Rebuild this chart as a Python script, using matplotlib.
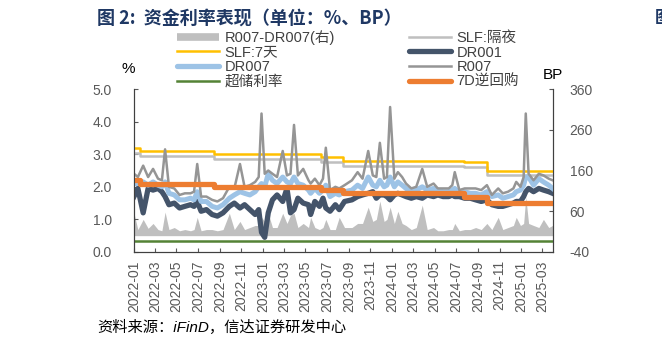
import pandas as pd
import numpy as np
import matplotlib
matplotlib.use("Agg")
import matplotlib.pyplot as plt
import matplotlib.dates as mdates
from matplotlib.lines import Line2D


# -----------------------------
# 1 Data
# -----------------------------

dates = [
    "2022-01-01", "2022-01-12", "2022-01-27", "2022-02-10", "2022-02-24", "2022-03-10",
    "2022-03-21", "2022-03-30", "2022-04-10", "2022-04-25", "2022-05-10", "2022-05-25",
    "2022-06-10", "2022-06-20", "2022-06-29", "2022-07-10", "2022-07-25", "2022-08-10",
    "2022-08-25", "2022-09-10", "2022-09-28", "2022-10-12", "2022-10-28", "2022-11-10",
    "2022-11-25", "2022-12-10", "2022-12-20", "2022-12-28",
    "2023-01-06", "2023-01-16", "2023-01-28", "2023-02-10", "2023-02-26", "2023-03-10",
    "2023-03-20", "2023-03-30", "2023-04-10", "2023-04-25", "2023-05-10", "2023-05-16",
    "2023-05-28", "2023-06-10", "2023-06-20", "2023-06-28", "2023-07-10", "2023-07-25",
    "2023-08-05", "2023-08-20", "2023-09-10", "2023-09-26", "2023-10-10", "2023-10-26",
    "2023-11-08", "2023-11-18", "2023-11-28", "2023-12-10", "2023-12-18", "2023-12-27",
    "2024-01-08", "2024-01-18", "2024-01-30", "2024-02-10", "2024-02-25", "2024-03-10",
    "2024-03-27", "2024-04-10", "2024-04-28", "2024-05-10", "2024-05-25", "2024-06-10",
    "2024-06-20", "2024-06-27", "2024-07-10", "2024-07-25", "2024-08-10", "2024-08-25",
    "2024-09-10", "2024-09-26", "2024-10-10", "2024-10-28", "2024-11-10", "2024-11-25",
    "2024-12-10", "2024-12-18", "2024-12-30",
    "2025-01-08", "2025-01-14", "2025-01-22", "2025-02-05", "2025-02-20", "2025-03-05",
    "2025-03-20", "2025-03-31",
]

dr001 = [
    1.70, 1.95, 1.20, 1.95, 1.90, 1.95, 1.85, 1.70, 1.45, 1.50, 1.35, 1.40,
    1.45, 1.40, 1.55, 1.25, 1.30, 1.15, 1.10, 1.20, 1.40, 1.50, 1.35, 1.45,
    1.30, 1.15, 1.30, 0.60,
    0.45, 1.20, 1.60, 1.75, 1.55, 1.95, 1.20, 1.30, 1.65, 1.50, 1.45, 1.15,
    1.55, 1.40, 1.65, 1.35, 1.25, 1.45, 1.30, 1.55, 1.60, 1.70, 1.75, 1.80,
    1.85, 1.65, 1.75, 1.75, 1.70, 1.60,
    1.75, 1.80, 1.75, 1.70, 1.65, 1.70, 1.65, 1.75, 1.70, 1.75, 1.70, 1.70,
    1.75, 1.70, 1.70, 1.65, 1.65, 1.60, 1.55, 1.60, 1.45, 1.40, 1.40, 1.45,
    1.50, 1.55, 1.55,
    1.70, 1.85, 1.95, 1.85, 1.95, 1.90, 1.85, 1.80,
]

dr007 = [
    2.10, 2.10, 2.15, 2.05, 2.15, 2.05, 2.00, 2.15, 1.80, 1.75, 1.60, 1.60,
    1.65, 1.60, 1.85, 1.55, 1.55, 1.40, 1.35, 1.45, 1.65, 1.75, 1.85, 1.80,
    1.75, 1.85, 2.00, 2.10,
    2.00, 2.40, 2.20, 2.10, 2.30, 2.15, 2.10, 2.30, 2.10, 2.05, 1.90, 1.80,
    1.95, 1.80, 1.90, 2.05, 1.70, 1.80, 1.75, 1.85, 1.90, 2.05, 1.95, 2.30,
    2.05, 2.00, 2.20, 2.00, 2.05, 2.30,
    2.00, 2.15, 2.05, 1.95, 1.85, 1.90, 2.00, 1.90, 1.95, 1.90, 1.85, 1.85,
    1.90, 1.95, 1.80, 1.85, 1.80, 1.80, 1.75, 1.85, 1.70, 1.75, 1.65, 1.70,
    1.75, 1.85, 1.90,
    2.05, 2.30, 2.30, 2.05, 2.25, 2.15, 2.05, 1.95,
]

r007 = [
    2.40, 2.30, 2.65, 2.30, 2.55, 2.25, 2.20, 3.15, 2.00, 1.95, 1.75, 1.80,
    1.80, 1.85, 2.70, 1.70, 1.70, 1.60, 1.55, 1.65, 2.00, 1.95, 2.70, 2.00,
    2.05, 2.15, 2.30, 4.25,
    2.40, 2.50, 2.40, 2.30, 3.10, 2.35, 2.40, 3.90, 2.35, 2.55, 2.20, 2.10,
    2.25, 2.05, 2.25, 3.20, 1.90, 2.00, 1.95, 2.05, 2.20, 2.45, 2.25, 3.10,
    2.35, 2.30, 3.35, 2.25, 2.30, 4.45,
    2.25, 2.45, 2.30, 2.10, 1.95, 2.00, 2.55, 2.00, 2.10, 1.95, 1.95, 1.95,
    2.05, 2.45, 1.90, 1.95, 1.95, 1.95, 1.90, 2.05, 1.75, 1.95, 1.80, 1.85,
    1.95, 2.15, 2.00,
    2.30, 4.25, 2.40, 2.20, 2.40, 2.35, 2.25, 2.20,
]

spread_bp = [
    55, 15, 40, 18, 30, 15, 12, 58, 15, 20, 12, 15,
    12, 15, 45, 12, 15, 15, 12, 15, 55, 15, 35, 15,
    20, 25, 25, 45,
    35, 55, 20, 20, 55, 30, 50, 55, 20, 30, 20, 45,
    20, 15, 20, 40, 15, 15, 45, 20, 20, 30, 30, 70,
    35, 40, 85, 35, 40, 70,
    30, 60, 30, 25, 15, 20, 75, 15, 20, 12, 12, 15,
    15, 30, 12, 15, 15, 20, 15, 30, 15, 45, 15, 20,
    25, 45, 25,
    30, 95, 30, 25, 20, 40, 20, 25,
]

# policy rates (step changes)
policy_dates = ["2022-01-01", "2022-01-17", "2022-08-15", "2023-06-13",
                "2023-08-15", "2024-07-22", "2024-09-27", "2025-03-31"]
slf_7d = [3.20, 3.10, 3.00, 2.90, 2.80, 2.75, 2.50, 2.50]
slf_on = [3.05, 2.95, 2.85, 2.75, 2.65, 2.60, 2.35, 2.35]
rr_7d = [2.20, 2.10, 2.00, 1.90, 1.80, 1.70, 1.50, 1.50]
excess_reserve = [0.35, 0.35, 0.35, 0.35, 0.35, 0.35, 0.35, 0.35]

x = pd.to_datetime(dates)
xp = pd.to_datetime(policy_dates)


# -----------------------------
# 2 Figure
# -----------------------------

plt.rcParams['font.family'] = ['Liberation Sans', 'Noto Sans CJK SC', 'DejaVu Sans']
plt.rcParams['axes.unicode_minus'] = False

fig = plt.figure(figsize=(6.62, 3.48), dpi=100)
ax = fig.add_axes([0.2024, 0.276, 0.6329, 0.468])
ax2 = ax.twinx()

# spread area on right axis, kept behind the lines
ax2.fill_between(x, 0, spread_bp, color='#BFBFBF', lw=0)
ax.set_zorder(ax2.get_zorder() + 1)
ax.patch.set_visible(False)

ax.step(xp, slf_on, where='post', color='#BFBFBF', lw=1.8)
ax.step(xp, slf_7d, where='post', color='#FFC000', lw=1.8)
ax.plot(x, dr001, color='#44546A', lw=3.8, solid_joinstyle='round')
ax.plot(x, dr007, color='#9DC3E6', lw=3.6, solid_joinstyle='round')
ax.plot(x, r007, color='#959595', lw=1.8)
ax.step(xp, excess_reserve, where='post', color='#548235', lw=1.8)
ax.step(xp, rr_7d, where='post', color='#ED7D31', lw=3.8)

# axes ranges and ticks
ax.set_xlim(pd.Timestamp("2022-01-01"), pd.Timestamp("2025-04-01"))
ax.set_ylim(0, 5)
ax.set_yticks([0, 1, 2, 3, 4, 5])
ax.yaxis.set_major_formatter(plt.FormatStrFormatter('%.1f'))
ax2.set_ylim(-40, 360)
ax2.set_yticks([-40, 60, 160, 260, 360])

ax.xaxis.set_major_locator(mdates.MonthLocator(bymonth=[1, 3, 5, 7, 9, 11]))
ax.xaxis.set_major_formatter(mdates.DateFormatter('%Y-%m'))
for lab in ax.get_xticklabels():
    lab.set_rotation(90)

tick_col = '#595959'
ax.tick_params(axis='x', direction='in', length=3, labelsize=10, colors=tick_col, pad=6)
ax.tick_params(axis='y', direction='in', length=3, labelsize=10, colors=tick_col, pad=16)
ax2.tick_params(axis='y', direction='in', length=3, labelsize=10, colors=tick_col, pad=12)

for a in (ax, ax2):
    a.spines['top'].set_visible(False)
    a.spines['left'].set_color('#404040')
    a.spines['right'].set_color('#404040')
    a.spines['bottom'].set_color('#404040')

# axis unit labels
fig.text(128 / 662, 1 - 69 / 348, '%', fontsize=11, ha='center', va='center')
fig.text(553 / 662, 1 - 75 / 348, 'BP', fontsize=11, ha='center', va='center')


# -----------------------------
# 3 Legend
# -----------------------------

handles = [
    Line2D([], [], color='#BFBFBF', lw=5.5, solid_capstyle='butt'),
    Line2D([], [], color='#FFC000', lw=1.8),
    Line2D([], [], color='#9DC3E6', lw=3.8, solid_capstyle='round'),
    Line2D([], [], color='#548235', lw=1.8),
    Line2D([], [], color='#BFBFBF', lw=1.8),
    Line2D([], [], color='#44546A', lw=3.8, solid_capstyle='round'),
    Line2D([], [], color='#959595', lw=1.8),
    Line2D([], [], color='#ED7D31', lw=3.8, solid_capstyle='round'),
]
labels = ['R007-DR007(右)', 'SLF:7天', 'DR007', '超储利率',
          'SLF:隔夜', 'DR001', 'R007', '7D逆回购']
fig.legend(handles, labels, ncol=2, frameon=False, fontsize=10.5,
           loc='upper left', bbox_to_anchor=(177 / 662, 1 - 30 / 348),
           handlelength=2.9, handletextpad=0.35, columnspacing=5.1,
           labelspacing=0.05, borderaxespad=0, borderpad=0,
           labelcolor='#404040')


# -----------------------------
# 4 Title and source
# -----------------------------

fig.text(97 / 662, 1 - 18 / 348, '图 2:  资金利率表现（单位：%、BP）', fontsize=13,
         fontweight='bold', color='#1F3864', ha='left', va='center',
         family=['Noto Sans CJK SC', 'DejaVu Sans'])
fig.text(655 / 662, 1 - 18 / 348, '图', fontsize=12, fontweight='bold',
         color='#1F3864', ha='left', va='center',
         family=['Noto Sans CJK SC', 'DejaVu Sans'])
fig.text(97 / 662, 1 - 327 / 348, '资料来源：iFinD，信达证券研发中心', fontsize=11,
         style='italic', color='#000000', ha='left', va='center')

fig.savefig('out.png', dpi=100)
